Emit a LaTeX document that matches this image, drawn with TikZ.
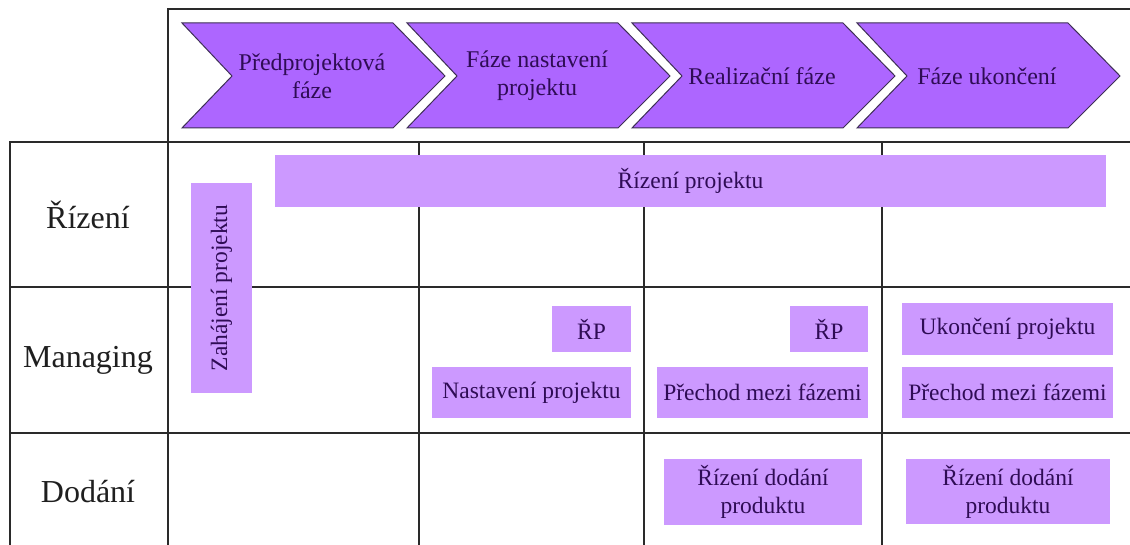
\documentclass[tikz,border=0pt]{standalone}
\usepackage{fontspec}
\setmainfont{Liberation Serif}
\definecolor{phasefill}{HTML}{AD66FF}
\definecolor{phaseedge}{HTML}{3E2F55}
\definecolor{boxfill}{HTML}{CC99FF}
\definecolor{inktext}{HTML}{2F0C55}
\definecolor{rulecol}{HTML}{2A2A2A}
\begin{document}
\begin{tikzpicture}[x=1pt,y=-1pt,
  rule/.style={draw=rulecol, line width=1.3pt},
  phase/.style={fill=phasefill, draw=phaseedge, line width=1pt},
  phasetext/.style={text=inktext, align=center, font=\fontsize{24}{28}\selectfont},
  task/.style={fill=boxfill, inner sep=0pt, text=inktext, align=center,
               font=\fontsize{23.5}{28}\selectfont},
  rowlabel/.style={text=black!88, font=\fontsize{32}{36}\selectfont}]
  \useasboundingbox (0,0) rectangle (1130,545);
  \fill[white] (0,0) rectangle (1130,545);

  % grid of the table
  \draw[rule] (168,545) -- (168,9) -- (1130,9);
  \draw[rule] (10,545) -- (10,142) -- (1130,142);
  \draw[rule] (10,287) -- (1130,287);
  \draw[rule] (10,433) -- (1130,433);
  \foreach \cx in {419,644,882} \draw[rule] (\cx,142) -- (\cx,545);

  % phase chevrons
  \foreach \L/\nm/\txt in {182/ph1/{Předprojektová\\fáze},
                           407/ph2/{Fáze nastavení\\projektu},
                           632/ph3/{Realizační fáze},
                           857/ph4/{Fáze ukončení}} {
    \draw[phase] (\L,23) -- ++(211,0) -- ++(52,53) -- ++(-52,52)
                 -- ++(-211,0) -- ++(50,-52) -- cycle;
    \node[phasetext] (\nm) at (\L+130,76) {\txt};
  }

  % row labels
  \node[rowlabel] (rizeni)   at (88,214.5) {Řízení};
  \node[rowlabel] (managing) at (88,360)   {Managing};
  \node[rowlabel] (dodani)   at (88,492)   {Dodání};

  % activity boxes
  \node[task, minimum width=831, minimum height=52] (rp) at (690.5,181) {Řízení projektu};
  \node[task, minimum width=210, minimum height=61, rotate=90] (zah) at (221.5,288) {Zahájení projektu};
  \node[task, minimum width=79, minimum height=46] (rp1) at (591.5,329) {ŘP};
  \node[task, minimum width=199, minimum height=51] (nast) at (531.5,392.5) {Nastavení projektu};
  \node[task, minimum width=78, minimum height=46] (rp2) at (829,329) {ŘP};
  \node[task, minimum width=211, minimum height=51] (prech1) at (762.5,392.5) {Přechod mezi fázemi};
  \node[task, minimum width=211, minimum height=52] (ukon) at (1007.5,329) {Ukončení projektu};
  \node[task, minimum width=211, minimum height=51] (prech2) at (1007.5,392.5) {Přechod mezi fázemi};
  \node[task, minimum width=198, minimum height=66] (dod1) at (763,492) {Řízení dodání\\produktu};
  \node[task, minimum width=204, minimum height=65] (dod2) at (1008,491.5) {Řízení dodání\\produktu};
\end{tikzpicture}
\end{document}
